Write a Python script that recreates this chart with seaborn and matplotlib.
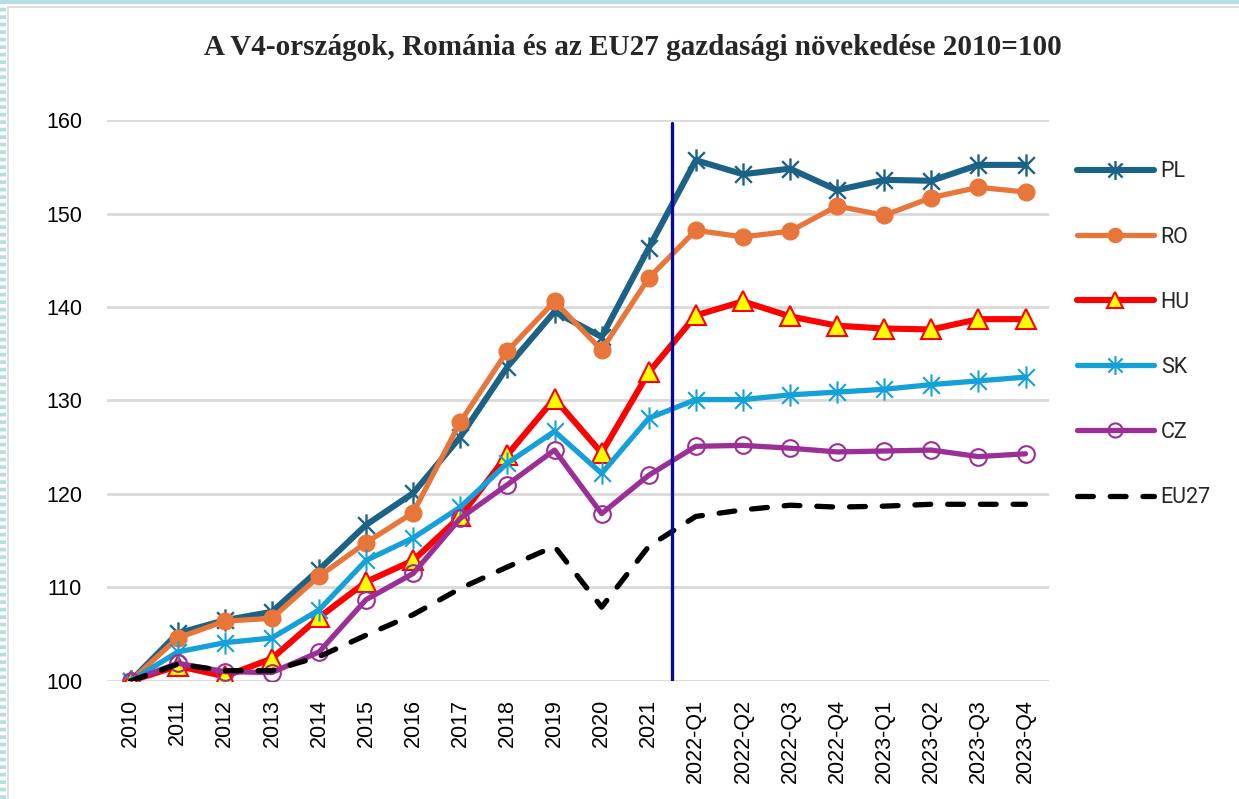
import matplotlib
matplotlib.use('Agg')
import matplotlib.pyplot as plt
import seaborn as sns
import pandas as pd
from matplotlib.path import Path
from matplotlib.lines import Line2D

# data (2010 = 100)
periods = ['2010', '2011', '2012', '2013', '2014', '2015', '2016', '2017', '2018', '2019',
           '2020', '2021', '2022-Q1', '2022-Q2', '2022-Q3', '2022-Q4',
           '2023-Q1', '2023-Q2', '2023-Q3', '2023-Q4']
pl = [100, 105.1, 106.5, 107.4, 111.9, 116.7, 120.1, 126.1, 133.6, 139.5,
      136.8, 146.3, 155.7, 154.2, 154.8, 152.5, 153.6, 153.5, 155.2, 155.2]
ro = [100, 104.6, 106.4, 106.7, 111.2, 114.8, 118.0, 127.7, 135.3, 140.6,
      135.4, 143.1, 148.2, 147.5, 148.1, 150.8, 149.8, 151.7, 152.8, 152.3]
hu = [100, 101.6, 100.5, 102.4, 106.8, 110.6, 112.9, 117.6, 124.2, 130.2,
      124.4, 133.0, 139.1, 140.6, 139.0, 138.0, 137.7, 137.6, 138.7, 138.7]
sk = [100, 103.1, 104.1, 104.6, 107.6, 112.9, 115.3, 118.6, 123.3, 126.7,
      122.2, 128.1, 130.1, 130.1, 130.6, 130.9, 131.2, 131.7, 132.1, 132.5]
cz = [100, 101.9, 101.0, 100.9, 103.1, 108.7, 111.5, 117.4, 121.0, 124.7,
      117.9, 122.0, 125.1, 125.2, 124.9, 124.5, 124.6, 124.7, 124.0, 124.3]
eu27 = [100, 101.8, 101.1, 101.1, 102.6, 104.9, 107.1, 109.9, 112.2, 114.4,
        107.9, 114.4, 117.6, 118.3, 118.8, 118.6, 118.7, 118.9, 118.9, 118.9]

title = 'A V4-országok, Románia és az EU27 gazdasági növekedése 2010=100'

series = {'PL': pl, 'RO': ro, 'HU': hu, 'SK': sk, 'CZ': cz, 'EU27': eu27}
df = pd.concat([pd.DataFrame({'period': periods, 'value': v, 'country': k})
                for k, v in series.items()], ignore_index=True)

# excel style "star": X plus vertical bar
star = Path([(0, -1), (0, 1), (-0.75, -0.75), (0.75, 0.75), (-0.75, 0.75), (0.75, -0.75)],
            [Path.MOVETO, Path.LINETO, Path.MOVETO, Path.LINETO, Path.MOVETO, Path.LINETO])

styles = {
    'PL': dict(color='#1B6286', lw=4.4, marker=star, ms=16, mec='#1B6286', mfc='none', mew=1.7),
    'RO': dict(color='#E8763A', lw=3.8, marker='o', ms=12, mec='#E8763A', mfc='#E8763A', mew=1),
    'HU': dict(color='#FF0000', lw=4.4, marker='^', ms=14, mec='#FF0000', mfc='#FFFF00', mew=1.5),
    'SK': dict(color='#14A0D8', lw=3.8, marker=star, ms=16, mec='#14A0D8', mfc='none', mew=1.5),
    'CZ': dict(color='#9B2F96', lw=3.8, marker='o', ms=12, mec='#9B2F96', mfc='none', mew=1.5),
    'EU27': dict(color='black', lw=3.8, marker=None, ls=(0, (3.0, 3.2))),
}

sns.set_theme(style='white')
plt.rcParams['font.family'] = ['Liberation Sans', 'DejaVu Sans']

fig = plt.figure(figsize=(12.39, 7.99), dpi=100)
ax = fig.add_axes([0.0864, 0.1477, 0.7603, 0.7021])

handles = []
for name in series:
    st = dict(styles[name])
    ls = st.pop('ls', '-')
    sub = df[df['country'] == name]
    sns.lineplot(data=sub, x='period', y='value', ax=ax, sort=False,
                 color=st['color'], linewidth=st['lw'], linestyle=ls,
                 marker=st['marker'],
                 markersize=st.get('ms', 0), markeredgecolor=st.get('mec'),
                 markerfacecolor=st.get('mfc'), markeredgewidth=st.get('mew', 0),
                 solid_capstyle='round', dash_capstyle='round', zorder=3)
    handles.append(Line2D([], [], color=st['color'], lw=st['lw'], ls=ls,
                          marker=st['marker'],
                          ms=st.get('ms', 0) * 0.85, mec=st.get('mec'), mfc=st.get('mfc'),
                          mew=st.get('mew', 0), solid_capstyle='round',
                          dash_capstyle='round'))

ax.axvline(11.5, ymax=0.995, color='#0A0A9A', lw=2.4, zorder=4)

ax.set_xlim(-0.5, len(periods) - 0.5)
ax.set_ylim(100, 160)
ax.set_yticks(range(100, 161, 10))
ax.grid(axis='y', color='#D9D9D9', lw=2)
ax.set_axisbelow(True)
for s in ax.spines.values():
    s.set_visible(False)
ax.set_xlabel('')
ax.set_ylabel('')
ax.tick_params(axis='y', labelsize=15.5, pad=18, length=0, colors='black')
ax.tick_params(axis='x', labelsize=15.5, pad=13, length=0, colors='black', rotation=90)

fig.text(0.511, 0.941, title, ha='center', va='center', fontsize=21,
         fontweight='bold', family=['Liberation Serif', 'DejaVu Serif'])

fig.legend(handles=handles, labels=list(series.keys()), loc='center left',
           bbox_to_anchor=(0.869, 0.581), frameon=False,
           borderpad=0, borderaxespad=0, labelspacing=2.05, handlelength=3.6,
           handletextpad=0.3, prop={'family': ['Roboto', 'DejaVu Sans'], 'size': 15.5})

# page decoration: light teal band on top/left, grey chart frame
fig.add_artist(Line2D([0, 1], [0.998, 0.998], transform=fig.transFigure,
                      color='#B7DEE0', lw=3))
fig.add_artist(Line2D([0.0025, 0.0025], [0, 1], transform=fig.transFigure,
                      color='#B7DEE0', lw=4.5, ls=(0, (0.6, 0.6))))
fig.add_artist(Line2D([0.0065, 1], [0.991, 0.991], transform=fig.transFigure,
                      color='#D9D9D9', lw=1.2))
fig.add_artist(Line2D([0.0065, 0.0065], [0, 0.991], transform=fig.transFigure,
                      color='#D9D9D9', lw=1.2))

fig.savefig('out.png', dpi=100)
